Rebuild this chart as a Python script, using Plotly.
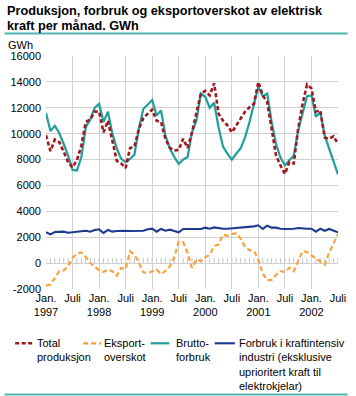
import plotly.graph_objects as go

# ---------------- data ----------------
years = [1997, 1998, 1999, 2000, 2001, 2002]
months = [f"{y}-{m:02d}" for y in years for m in range(1, 13)][:67]  # Jan 1997 .. Jul 2002

total_produksjon = [
    9870, 8650, 9550, 9350, 8600, 7800, 7400, 7950, 9100, 10900, 11100, 11700,
    11700, 10100, 11000, 9500, 7900, 7700, 7350, 8900, 9000, 10400, 11200, 11550,
    11850, 11000, 10900, 9600, 8900, 8700, 8750, 9600, 8900, 10100, 11700, 13100,
    13300, 12950, 13900, 11550, 11000, 10650, 10100, 10650, 11200, 11700, 12050, 12300,
    14000, 12950, 12450, 10250, 8300, 7550, 6900, 7800, 7700, 10400, 12300, 13800,
    13500, 11700, 11800, 9700, 9600, 9800, 9200]

eksportoverskot = [
    -1740, -1660, -1150, -630, -560, -250, 400, 730, 830, 470, 10, -250,
    -560, -680, -500, -630, -970, -380, -450, 910, 650, 10, -710, -760,
    -630, -500, -850, -600, -250, 450, 1650, 1620, 800, -380, 300, 150,
    450, 650, 1300, 1450, 2200, 2100, 2250, 2300, 1900, 1250, 1000, 950,
    250, -800, -1330, -1300, -900, -620, -680, -350, -620, 200, 920, 850,
    620, 400, 150, -120, 800, 1550, 2250]

bruttoforbruk = [
    11600, 10200, 10600, 10050, 9200, 8300, 7200, 7150, 8200, 10500, 11100, 12000,
    12300, 10900, 11700, 10000, 8850, 8050, 7800, 8050, 8400, 10400, 11900, 12250,
    12600, 11400, 11800, 9850, 8850, 8200, 7650, 8000, 8200, 10100, 11000, 13100,
    12850, 12000, 12400, 10500, 9000, 8450, 8000, 8450, 8870, 9740, 10900, 12300,
    13600, 12900, 13100, 10900, 9200, 8150, 7550, 7950, 8300, 10250, 11550, 12900,
    12950, 11300, 11650, 9850, 8850, 7800, 6850]

kraftintensiv = [
    2380, 2220, 2400, 2400, 2430, 2350, 2380, 2400, 2430, 2500, 2430, 2560,
    2610, 2330, 2560, 2430, 2480, 2500, 2500, 2480, 2500, 2520, 2500, 2610,
    2660, 2430, 2640, 2500, 2580, 2480, 2380, 2640, 2640, 2640, 2690, 2640,
    2740, 2660, 2760, 2690, 2660, 2660, 2690, 2710, 2740, 2760, 2760, 2840,
    2920, 2640, 2890, 2740, 2740, 2660, 2640, 2640, 2660, 2710, 2660, 2660,
    2660, 2430, 2660, 2500, 2640, 2500, 2380]

tick_months = ["1997-01", "1997-07", "1998-01", "1998-07", "1999-01", "1999-07",
               "2000-01", "2000-07", "2001-01", "2001-07", "2002-01", "2002-07"]
tick_text = ["Jan.<br>1997", "Juli", "Jan.<br>1998", "Juli", "Jan.<br>1999", "Juli",
             "Jan.<br>2000", "Juli", "Jan.<br>2001", "Juli", "Jan.<br>2002", "Juli"]

y_ticks = [-2000, 0, 2000, 4000, 6000, 8000, 10000, 12000, 14000, 16000]
y_tick_text = ["-2000", "0", "2000", "4000", "6000", "8000", "10000", "12000", "14000", "16000"]

series_names = ["Total<br>produksjon", "Eksport-<br>overskot", "Brutto-<br>forbruk",
                "Forbruk i kraftintensiv<br>industri (eksklusive<br>uprioritert kraft til<br>elektrokjelar)"]

# ---------------- styling ----------------
FONT = "Liberation Sans"
W, H = 356, 396
ML, MR, MT, MB = 43, 10, 56, 107
PW, PH = W - ML - MR, H - MT - MB

RED = "#a0171d"
ORANGE = "#f6a340"
TEAL = "#1f9e9b"
BLUE = "#1c3b8f"
GRID = "#d0d0d0"
RULE = "#4fb3b1"

styles = [
    dict(color=RED, width=2.6, dash="4px,2.5px"),
    dict(color=ORANGE, width=2.2, dash="5px,3px"),
    dict(color=TEAL, width=2.2, dash="solid"),
    dict(color=BLUE, width=2.1, dash="solid"),
]

def px_x(px):
    return (px - ML) / PW

def px_y(py):
    return (H - MB - py) / PH

fig = go.Figure()
data_series = [total_produksjon, eksportoverskot, bruttoforbruk, kraftintensiv]
draw_order = [2, 3, 1, 0]
for i in draw_order:
    fig.add_trace(go.Scatter(
        x=months, y=data_series[i], mode="lines",
        name=series_names[i].replace("<br>", " "),
        line=styles[i], showlegend=False, hoverinfo="x+y"))

shapes = []
# monthly minor ticks on the zero line
for m in months:
    shapes.append(dict(type="line", xref="x", yref="y", x0=m, x1=m,
                       ysizemode="pixel", yanchor=0, y0=0, y1=5,
                       line=dict(color="#c4c4c4", width=1), layer="below"))
# title rule & bottom rule
shapes.append(dict(type="line", xref="paper", yref="paper",
                   x0=px_x(0), x1=px_x(W), y0=px_y(33.5), y1=px_y(33.5),
                   line=dict(color=RULE, width=2)))
shapes.append(dict(type="line", xref="paper", yref="paper",
                   x0=px_x(0), x1=px_x(W), y0=px_y(394.5), y1=px_y(394.5),
                   line=dict(color=RULE, width=2)))

# custom legend
leg_sample_x = [(11, 31), (81.5, 100.5), (151.5, 171), (218, 239)]
leg_text_x = [33, 102.5, 176.5, 242.5]
LEG_Y = 343.3
annotations = []
for i in range(4):
    x0, x1 = leg_sample_x[i]
    shapes.append(dict(type="line", xref="paper", yref="paper",
                       x0=px_x(x0), x1=px_x(x1), y0=px_y(LEG_Y), y1=px_y(LEG_Y),
                       line=styles[i]))
    annotations.append(dict(xref="paper", yref="paper", x=px_x(leg_text_x[i]),
                            y=px_y(LEG_Y - 7.6), xanchor="left", yanchor="top",
                            align="left", text=series_names[i], showarrow=False,
                            borderpad=0,
                            font=dict(family=FONT, size=11, color="#000000")))

# title
annotations.append(dict(xref="paper", yref="paper", x=px_x(2), y=px_y(11),
                        xanchor="left", yanchor="middle", showarrow=False, borderpad=0,
                        text="<b>Produksjon, forbruk og eksportoverskot av elektrisk</b>",
                        font=dict(family=FONT, size=12.7, color="#000000")))
annotations.append(dict(xref="paper", yref="paper", x=px_x(2), y=px_y(26),
                        xanchor="left", yanchor="middle", showarrow=False, borderpad=0,
                        text="<b>kraft per månad. GWh</b>",
                        font=dict(family=FONT, size=12.7, color="#000000")))
# unit label
annotations.append(dict(xref="paper", yref="paper", x=px_x(3), y=px_y(45),
                        xanchor="left", yanchor="middle", showarrow=False, borderpad=0,
                        text="GWh", font=dict(family=FONT, size=11, color="#000000")))

fig.update_layout(
    width=W, height=H,
    margin=dict(l=ML, r=MR, t=MT, b=MB, pad=0),
    paper_bgcolor="white", plot_bgcolor="white",
    font=dict(family=FONT, size=11, color="#000000"),
    xaxis=dict(type="category", categoryorder="array", categoryarray=months,
               range=[0, len(months) - 1], tickmode="array",
               tickvals=tick_months, ticktext=tick_text,
               showgrid=True, gridcolor=GRID, gridwidth=1,
               showline=False, zeroline=False, ticks="", tickangle=0,
               ticklabelstandoff=1,
               tickfont=dict(family=FONT, size=11, color="#000000")),
    yaxis=dict(range=[-2000, 16000], tickmode="array", tickvals=y_ticks,
               ticktext=y_tick_text,
               showgrid=True, gridcolor=GRID, gridwidth=1,
               showline=False, zeroline=False, ticks="",
               ticklabelstandoff=4,
               tickfont=dict(family=FONT, size=11, color="#000000")),
    shapes=shapes, annotations=annotations, showlegend=False,
)

fig.write_html("out.html", config={"displayModeBar": False},
               post_script="document.body.style.margin='0';document.body.style.padding='0';")
